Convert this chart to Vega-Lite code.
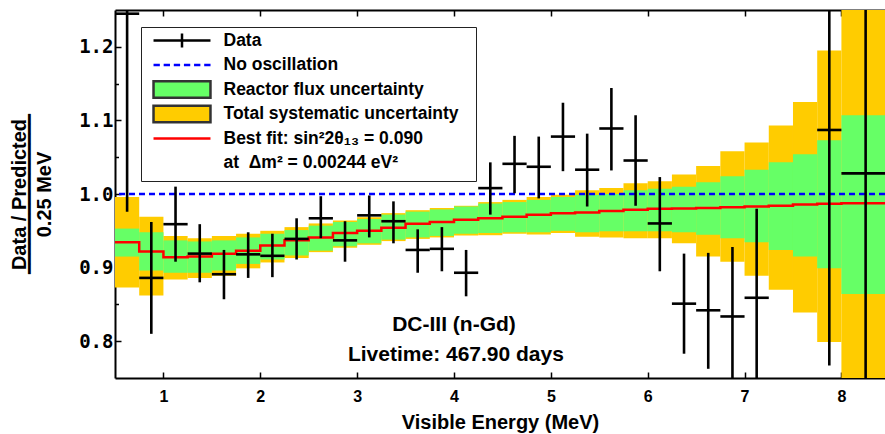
{
  "$schema": "https://vega.github.io/schema/vega-lite/v6.json",
  "width": 770,
  "height": 368,
  "autosize": {"type": "none"},
  "padding": {"left": 115, "top": 10, "right": 0, "bottom": 56},
  "background": "white",
  "title": {"text": "━━━━━━━━━━━━━━━━", "orient": "left", "anchor": "middle", "frame": "group", "font": "DejaVu Sans", "fontSize": 16.6, "fontWeight": "normal", "color": "black", "offset": -37, "baseline": "middle"},
  "datasets": {
    "bins": [
      {"lo": 0.5, "hi": 0.75, "glo": 0.915, "ghi": 0.953, "tlo": 0.873, "thi": 0.996},
      {"lo": 0.75, "hi": 1.0, "glo": 0.896, "ghi": 0.948, "tlo": 0.862, "thi": 0.969},
      {"lo": 1.0, "hi": 1.25, "glo": 0.893, "ghi": 0.937, "tlo": 0.884, "thi": 0.943},
      {"lo": 1.25, "hi": 1.5, "glo": 0.893, "ghi": 0.9355, "tlo": 0.886, "thi": 0.94},
      {"lo": 1.5, "hi": 1.75, "glo": 0.896, "ghi": 0.937, "tlo": 0.889, "thi": 0.943},
      {"lo": 1.75, "hi": 2.0, "glo": 0.905, "ghi": 0.941, "tlo": 0.899, "thi": 0.946},
      {"lo": 2.0, "hi": 2.25, "glo": 0.911, "ghi": 0.946, "tlo": 0.907, "thi": 0.95},
      {"lo": 2.25, "hi": 2.5, "glo": 0.9165, "ghi": 0.951, "tlo": 0.913, "thi": 0.955},
      {"lo": 2.5, "hi": 2.75, "glo": 0.923, "ghi": 0.957, "tlo": 0.921, "thi": 0.96},
      {"lo": 2.75, "hi": 3.0, "glo": 0.929, "ghi": 0.962, "tlo": 0.927, "thi": 0.964},
      {"lo": 3.0, "hi": 3.25, "glo": 0.933, "ghi": 0.966, "tlo": 0.931, "thi": 0.9685},
      {"lo": 3.25, "hi": 3.5, "glo": 0.938, "ghi": 0.972, "tlo": 0.936, "thi": 0.974},
      {"lo": 3.5, "hi": 3.75, "glo": 0.941, "ghi": 0.976, "tlo": 0.939, "thi": 0.978},
      {"lo": 3.75, "hi": 4.0, "glo": 0.943, "ghi": 0.979, "tlo": 0.941, "thi": 0.981},
      {"lo": 4.0, "hi": 4.25, "glo": 0.946, "ghi": 0.983, "tlo": 0.9436, "thi": 0.984},
      {"lo": 4.25, "hi": 4.5, "glo": 0.947, "ghi": 0.987, "tlo": 0.944, "thi": 0.989},
      {"lo": 4.5, "hi": 4.75, "glo": 0.948, "ghi": 0.989, "tlo": 0.946, "thi": 0.992},
      {"lo": 4.75, "hi": 5.0, "glo": 0.948, "ghi": 0.992, "tlo": 0.945, "thi": 0.996},
      {"lo": 5.0, "hi": 5.25, "glo": 0.95, "ghi": 0.996, "tlo": 0.947, "thi": 0.999},
      {"lo": 5.25, "hi": 5.5, "glo": 0.948, "ghi": 0.999, "tlo": 0.942, "thi": 1.005},
      {"lo": 5.5, "hi": 5.75, "glo": 0.9495, "ghi": 1.0, "tlo": 0.941, "thi": 1.008},
      {"lo": 5.75, "hi": 6.0, "glo": 0.9495, "ghi": 1.005, "tlo": 0.94, "thi": 1.0147},
      {"lo": 6.0, "hi": 6.25, "glo": 0.9495, "ghi": 1.007, "tlo": 0.94, "thi": 1.0174},
      {"lo": 6.25, "hi": 6.5, "glo": 0.948, "ghi": 1.01, "tlo": 0.933, "thi": 1.0265},
      {"lo": 6.5, "hi": 6.75, "glo": 0.9446, "ghi": 1.016, "tlo": 0.915, "thi": 1.038},
      {"lo": 6.75, "hi": 7.0, "glo": 0.94, "ghi": 1.024, "tlo": 0.908, "thi": 1.058},
      {"lo": 7.0, "hi": 7.25, "glo": 0.9345, "ghi": 1.033, "tlo": 0.889, "thi": 1.07},
      {"lo": 7.25, "hi": 7.5, "glo": 0.924, "ghi": 1.043, "tlo": 0.87, "thi": 1.093},
      {"lo": 7.5, "hi": 7.75, "glo": 0.915, "ghi": 1.054, "tlo": 0.839, "thi": 1.125},
      {"lo": 7.75, "hi": 8.0, "glo": 0.899, "ghi": 1.073, "tlo": 0.799, "thi": 1.195},
      {"lo": 8.0, "hi": 8.5, "glo": 0.864, "ghi": 1.107, "tlo": 0.6, "thi": 1.4}
    ],
    "fit": [
      {"e": 0.5, "r": 0.9345}, {"e": 0.75, "r": 0.922}, {"e": 1.0, "r": 0.914}, {"e": 1.25, "r": 0.915},
      {"e": 1.5, "r": 0.9187}, {"e": 1.75, "r": 0.923}, {"e": 2.0, "r": 0.93}, {"e": 2.25, "r": 0.937},
      {"e": 2.5, "r": 0.941}, {"e": 2.75, "r": 0.947}, {"e": 3.0, "r": 0.95}, {"e": 3.25, "r": 0.954},
      {"e": 3.5, "r": 0.9595}, {"e": 3.75, "r": 0.962}, {"e": 4.0, "r": 0.965}, {"e": 4.25, "r": 0.967},
      {"e": 4.5, "r": 0.969}, {"e": 4.75, "r": 0.9717}, {"e": 5.0, "r": 0.974}, {"e": 5.25, "r": 0.975},
      {"e": 5.5, "r": 0.977}, {"e": 5.75, "r": 0.9785}, {"e": 6.0, "r": 0.98}, {"e": 6.25, "r": 0.9803},
      {"e": 6.5, "r": 0.981}, {"e": 6.75, "r": 0.982}, {"e": 7.0, "r": 0.983}, {"e": 7.25, "r": 0.984},
      {"e": 7.5, "r": 0.9857}, {"e": 7.75, "r": 0.9867}, {"e": 8.0, "r": 0.9875}, {"e": 8.5, "r": 0.9875}
    ],
    "pts": [
      {"c": 0.625, "lo": 0.5, "hi": 0.75, "v": 1.245, "elo": 0.976, "ehi": 1.52},
      {"c": 0.875, "lo": 0.75, "hi": 1.0, "v": 0.886, "elo": 0.81, "ehi": 0.962},
      {"c": 1.125, "lo": 1.0, "hi": 1.25, "v": 0.959, "elo": 0.908, "ehi": 1.01},
      {"c": 1.375, "lo": 1.25, "hi": 1.5, "v": 0.919, "elo": 0.88, "ehi": 0.959},
      {"c": 1.625, "lo": 1.5, "hi": 1.75, "v": 0.891, "elo": 0.857, "ehi": 0.924},
      {"c": 1.875, "lo": 1.75, "hi": 2.0, "v": 0.918, "elo": 0.886, "ehi": 0.948},
      {"c": 2.125, "lo": 2.0, "hi": 2.25, "v": 0.916, "elo": 0.887, "ehi": 0.946},
      {"c": 2.375, "lo": 2.25, "hi": 2.5, "v": 0.939, "elo": 0.911, "ehi": 0.967},
      {"c": 2.625, "lo": 2.5, "hi": 2.75, "v": 0.967, "elo": 0.94, "ehi": 0.997},
      {"c": 2.875, "lo": 2.75, "hi": 3.0, "v": 0.937, "elo": 0.908, "ehi": 0.963},
      {"c": 3.125, "lo": 3.0, "hi": 3.25, "v": 0.971, "elo": 0.941, "ehi": 0.998},
      {"c": 3.375, "lo": 3.25, "hi": 3.5, "v": 0.963, "elo": 0.933, "ehi": 0.99},
      {"c": 3.625, "lo": 3.5, "hi": 3.75, "v": 0.924, "elo": 0.893, "ehi": 0.952},
      {"c": 3.875, "lo": 3.75, "hi": 4.0, "v": 0.9255, "elo": 0.895, "ehi": 0.955},
      {"c": 4.125, "lo": 4.0, "hi": 4.25, "v": 0.893, "elo": 0.861, "ehi": 0.924},
      {"c": 4.375, "lo": 4.25, "hi": 4.5, "v": 1.008, "elo": 0.972, "ehi": 1.043},
      {"c": 4.625, "lo": 4.5, "hi": 4.75, "v": 1.041, "elo": 1.001, "ehi": 1.079},
      {"c": 4.875, "lo": 4.75, "hi": 5.0, "v": 1.037, "elo": 0.994, "ehi": 1.078},
      {"c": 5.125, "lo": 5.0, "hi": 5.25, "v": 1.078, "elo": 1.031, "ehi": 1.124},
      {"c": 5.375, "lo": 5.25, "hi": 5.5, "v": 1.033, "elo": 0.983, "ehi": 1.082},
      {"c": 5.625, "lo": 5.5, "hi": 5.75, "v": 1.089, "elo": 1.032, "ehi": 1.144},
      {"c": 5.875, "lo": 5.75, "hi": 6.0, "v": 1.0455, "elo": 0.984, "ehi": 1.107},
      {"c": 6.125, "lo": 6.0, "hi": 6.25, "v": 0.96, "elo": 0.895, "ehi": 1.023},
      {"c": 6.375, "lo": 6.25, "hi": 6.5, "v": 0.851, "elo": 0.783, "ehi": 0.919},
      {"c": 6.625, "lo": 6.5, "hi": 6.75, "v": 0.842, "elo": 0.7625, "ehi": 0.92},
      {"c": 6.875, "lo": 6.75, "hi": 7.0, "v": 0.8336, "elo": 0.7, "ehi": 0.928},
      {"c": 7.125, "lo": 7.0, "hi": 7.25, "v": 0.859, "elo": 0.7, "ehi": 0.98},
      {"c": 7.875, "lo": 7.75, "hi": 8.0, "v": 1.087, "elo": 0.767, "ehi": 1.45},
      {"c": 8.25, "lo": 8.0, "hi": 8.5, "v": 1.028, "elo": 0.55, "ehi": 1.55}
    ],
    "series": [
      {"s": "Data"},
      {"s": "No oscillation"},
      {"s": "Reactor flux uncertainty"},
      {"s": "Total systematic uncertainty\u2800"},
      {"s": "Best fit: sin²2θ₁₃ = 0.090"},
      {"s": "at\u00a0 Δm² = 0.00244 eV²"}
    ]
  },
  "layer": [
    {
      "data": {"name": "bins"},
      "mark": {"type": "rect", "color": "#ffcc00", "clip": true},
      "encoding": {
        "x": {"field": "lo", "type": "quantitative", "scale": {"domain": [0.5, 8.45], "nice": false, "zero": false},
          "axis": {"orient": "bottom", "values": [1, 2, 3, 4, 5, 6, 7, 8], "format": "d", "tickSize": -6, "tickWidth": 1.5, "tickColor": "black", "domainColor": "black", "domainWidth": 2, "labelFont": "Liberation Sans", "labelFontWeight": "bold", "labelFontSize": 16, "labelColor": "black", "labelPadding": 16, "labelFlush": false, "labelOverlap": false, "title": "Visible Energy (MeV)", "titleFont": "Liberation Sans", "titleFontWeight": "bold", "titleFontSize": 20, "titleColor": "black", "titlePadding": 8, "grid": false}},
        "x2": {"field": "hi"},
        "y": {"field": "tlo", "type": "quantitative", "scale": {"domain": [0.75, 1.25], "nice": false, "zero": false},
          "axis": {"orient": "left", "values": [0.8, 0.85, 0.9, 0.95, 1.0, 1.05, 1.1, 1.15, 1.2], "labelExpr": "round(datum.value*100) % 10 != 0 ? '' : format(datum.value, '.1f')", "tickSize": {"condition": {"test": "round(datum.value*100) % 10 != 0", "value": -3.5}, "value": -6}, "tickWidth": 1.5, "tickColor": "black", "domainColor": "black", "domainWidth": 2, "labelFont": "DejaVu Sans Mono", "labelFontWeight": "bold", "labelFontSize": 19, "labelColor": "black", "labelPadding": 8, "labelOverlap": false, "title": ["Data / Predicted", "0.25 MeV"], "titleFont": "Liberation Sans", "titleFontWeight": "bold", "titleFontSize": 20, "titleColor": "black", "titleLineHeight": 25, "titlePadding": 24, "grid": false}},
        "y2": {"field": "thi"}
      }
    },
    {
      "data": {"name": "bins"},
      "mark": {"type": "rect", "color": "#66ff66", "clip": true},
      "encoding": {
        "x": {"field": "lo", "type": "quantitative", "axis": null},
        "x2": {"field": "hi"},
        "y": {"field": "glo", "type": "quantitative", "axis": null},
        "y2": {"field": "ghi"}
      }
    },
    {
      "data": {"name": "fit"},
      "mark": {"type": "line", "color": "#ff0000", "strokeWidth": 2.5, "interpolate": "step-after", "clip": true},
      "encoding": {
        "x": {"field": "e", "type": "quantitative", "axis": null},
        "y": {"field": "r", "type": "quantitative", "axis": null}
      }
    },
    {
      "data": {"values": [{}]},
      "mark": {"type": "rule", "color": "#0000ff", "strokeWidth": 2.5, "strokeDash": [6, 4]},
      "encoding": {
        "y": {"datum": 1.0, "type": "quantitative", "axis": null}
      }
    },
    {
      "data": {"name": "pts"},
      "mark": {"type": "rule", "color": "black", "strokeWidth": 2.6, "clip": true},
      "encoding": {
        "x": {"field": "lo", "type": "quantitative", "axis": null},
        "x2": {"field": "hi"},
        "y": {"field": "v", "type": "quantitative", "axis": null}
      }
    },
    {
      "data": {"name": "pts"},
      "mark": {"type": "rule", "color": "black", "strokeWidth": 2.6, "clip": true},
      "encoding": {
        "x": {"field": "c", "type": "quantitative", "axis": null},
        "y": {"field": "elo", "type": "quantitative", "axis": null},
        "y2": {"field": "ehi"}
      }
    },
    {
      "data": {"values": [{}]},
      "mark": {"type": "text", "font": "Liberation Sans", "fontWeight": "bold", "fontSize": 21, "color": "black", "align": "center", "baseline": "middle"},
      "encoding": {
        "x": {"datum": 4.0, "type": "quantitative", "axis": null},
        "y": {"datum": 0.822, "type": "quantitative", "axis": null},
        "text": {"value": "DC-III (n-Gd)"}
      }
    },
    {
      "data": {"values": [{}]},
      "mark": {"type": "text", "font": "Liberation Sans", "fontWeight": "bold", "fontSize": 21, "color": "black", "align": "center", "baseline": "middle"},
      "encoding": {
        "x": {"datum": 4.02, "type": "quantitative", "axis": null},
        "y": {"datum": 0.781, "type": "quantitative", "axis": null},
        "text": {"value": "Livetime: 467.90 days"}
      }
    },
    {
      "data": {"name": "series"},
      "mark": {"type": "point", "opacity": 0, "strokeWidth": 2.5},
      "encoding": {
        "x": {"datum": 4.0, "type": "quantitative", "axis": null},
        "y": {"datum": 1.0, "type": "quantitative", "axis": null},
        "shape": {"field": "s", "type": "nominal",
          "scale": {"domain": ["Data", "No oscillation", "Reactor flux uncertainty", "Total systematic uncertainty\u2800", "Best fit: sin²2θ₁₃ = 0.090", "at\u00a0 Δm² = 0.00244 eV²"],
            "range": ["M0,-1.03M0,1.03M-3.56,0H3.56M0,-0.875V0.875", "M0,-1.03M0,1.03M-3.56,0H-2.77M-2.293,0H-1.503M-1.026,0H-0.236M0.241,0H1.031M1.508,0H2.298M2.775,0H3.565", "M-3.56,-1.03H3.56V1.03H-3.56Z", "M-3.56,-1.03H3.56V1.03H-3.56Z", "M0,-1.03M0,1.03M-3.56,0H3.56", "M0,-1.03M0,1.03M0,0"]},
          "legend": {"orient": "none", "legendX": 26, "legendY": 17, "title": null, "padding": 4, "symbolOffset": 27.5, "labelOffset": 32, "rowPadding": -2.5, "strokeColor": "#222222", "fillColor": "white", "symbolSize": 256, "symbolStrokeWidth": 2.5, "symbolOpacity": 1, "labelFont": "Liberation Sans", "labelFontWeight": "bold", "labelFontSize": 17.5, "labelLimit": 500, "labelColor": "black"}},
        "fill": {"field": "s", "type": "nominal",
          "scale": {"domain": ["Data", "No oscillation", "Reactor flux uncertainty", "Total systematic uncertainty\u2800", "Best fit: sin²2θ₁₃ = 0.090", "at\u00a0 Δm² = 0.00244 eV²"],
            "range": ["transparent", "transparent", "#66ff66", "#ffcc00", "transparent", "transparent"]},
          "legend": {"orient": "none", "legendX": 26, "legendY": 17, "title": null, "padding": 4, "symbolOffset": 27.5, "labelOffset": 32, "rowPadding": -2.5, "strokeColor": "#222222", "fillColor": "white", "symbolSize": 256, "symbolStrokeWidth": 2.5, "symbolOpacity": 1, "labelFont": "Liberation Sans", "labelFontWeight": "bold", "labelFontSize": 17.5, "labelLimit": 500, "labelColor": "black"}},
        "stroke": {"field": "s", "type": "nominal",
          "scale": {"domain": ["Data", "No oscillation", "Reactor flux uncertainty", "Total systematic uncertainty\u2800", "Best fit: sin²2θ₁₃ = 0.090", "at\u00a0 Δm² = 0.00244 eV²"],
            "range": ["black", "#0000ff", "#333333", "#333333", "#ff0000", "transparent"]},
          "legend": {"orient": "none", "legendX": 26, "legendY": 17, "title": null, "padding": 4, "symbolOffset": 27.5, "labelOffset": 32, "rowPadding": -2.5, "strokeColor": "#222222", "fillColor": "white", "symbolSize": 256, "symbolStrokeWidth": 2.5, "symbolOpacity": 1, "labelFont": "Liberation Sans", "labelFontWeight": "bold", "labelFontSize": 17.5, "labelLimit": 500, "labelColor": "black"}}
      }
    },
    {
      "data": {"name": "pts"},
      "mark": {"type": "point", "opacity": 0},
      "encoding": {
        "x": {"field": "c", "type": "quantitative",
          "axis": {"orient": "top", "values": [1, 2, 3, 4, 5, 6, 7, 8], "labels": false, "title": null, "tickSize": -6, "tickWidth": 1.5, "tickColor": "black", "domainColor": "black", "domainWidth": 2, "grid": false}},
        "y": {"field": "v", "type": "quantitative",
          "axis": {"orient": "right", "values": [0.8, 0.9, 1.0, 1.1, 1.2], "labels": false, "title": null, "tickSize": -3, "tickWidth": 1.5, "tickColor": "black", "domain": false, "grid": false}}
      }
    }
  ],
  "resolve": {"axis": {"x": "independent", "y": "independent"}},
  "config": {"view": {"stroke": null}, "axis": {"grid": false}}
}
